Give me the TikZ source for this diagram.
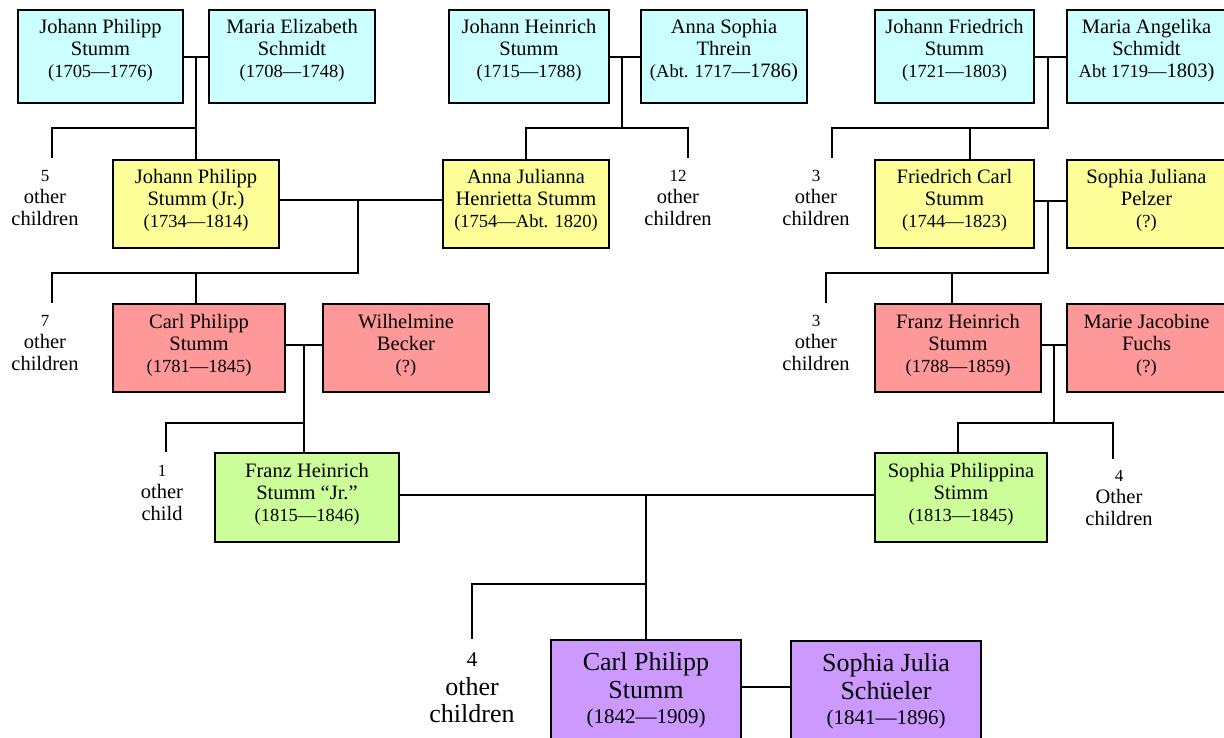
\documentclass[tikz,border=0pt]{standalone}
\usepackage{fontspec}
\setmainfont{Liberation Serif}
\usetikzlibrary{fit}
\definecolor{cyanbox}{HTML}{CCFFFF}
\definecolor{yelbox}{HTML}{FFFF99}
\definecolor{redbox}{HTML}{FF9999}
\definecolor{grnbox}{HTML}{CCFF99}
\definecolor{purbox}{HTML}{CC99FF}
\tikzset{
 pbox/.style={draw=black, line width=2.2pt, inner sep=0pt, outer sep=0pt, rectangle},
 conn/.style={draw=black, line width=2.2pt},
 nm/.style={anchor=base, inner sep=0pt, font=\fontsize{20.5}{22}\selectfont},
 dt/.style={anchor=base, inner sep=0pt, font=\fontsize{18.5}{20}\selectfont},
 bnm/.style={anchor=base, inner sep=0pt, font=\fontsize{26}{28}\selectfont},
 bdt/.style={anchor=base, inner sep=0pt, font=\fontsize{21}{23}\selectfont},
 num/.style={anchor=base, inner sep=0pt, font=\fontsize{17}{19}\selectfont},
 bnum/.style={anchor=base, inner sep=0pt, font=\fontsize{21}{23}\selectfont},
}
% name, x1, y1, x2, y2, fill, line1, line2, line3
\newcommand\personbox[9]{%
 \node[pbox, fill=#6, fit={(#2,#3) (#4,#5)}] (#1) {};
 \node[nm] (#1-a) at ([yshift=-24pt]#1.north) {#7};
 \node[nm] (#1-b) at ([yshift=-46pt]#1.north) {#8};
 \node[dt] (#1-c) at ([yshift=-68pt]#1.north) {#9};
}
% name, x, first baseline, number, word2, word3
\newcommand\otherkids[6]{%
 \node[num] (#1-a) at (#2,#3) {#4};
 \node[nm] (#1-b) at (#2,#3+22) {#5};
 \node[nm] (#1-c) at (#2,#3+44) {#6};
}
\begin{document}
\begin{tikzpicture}[x=1pt,y=-1pt]
\useasboundingbox (0,0) rectangle (1224,738);
\fill[white] (0,0) rectangle (1224,738);

% Row 1
\personbox{jps}{18}{10}{183}{103}{cyanbox}{Johann Philipp}{Stumm}{(1705—1776)}
\personbox{mes}{209}{10}{375}{103}{cyanbox}{Maria Elizabeth}{Schmidt}{(1708—1748)}
\personbox{jhs}{449}{10}{609}{103}{cyanbox}{Johann Heinrich}{Stumm}{(1715—1788)}
\personbox{ast}{641}{10}{807}{103}{cyanbox}{Anna Sophia}{Threin}{(Abt. 1717—{\fontsize{20.5}{22}\selectfont 1786)}}
\personbox{jfs}{875}{10}{1034}{103}{cyanbox}{Johann Friedrich}{Stumm}{(1721—1803)}
\personbox{mas}{1067}{10}{1226}{103}{cyanbox}{Maria Angelika}{Schmidt}{Abt 1719—{\fontsize{20.5}{22}\selectfont 1803)}}

% Row 2
\personbox{jpj}{113}{160}{279}{248}{yelbox}{Johann Philipp}{Stumm (Jr.)}{(1734—1814)}
\personbox{ajh}{443}{160}{609}{248}{yelbox}{Anna Julianna}{Henrietta Stumm}{(1754—Abt. 1820)}
\personbox{fcs}{875}{160}{1034}{248}{yelbox}{Friedrich Carl}{Stumm}{(1744—1823)}
\personbox{sjp}{1067}{160}{1226}{248}{yelbox}{Sophia Juliana}{Pelzer}{(?)}

% Row 3
\personbox{cps}{113}{304}{285}{392}{redbox}{Carl Philipp}{Stumm}{(1781—1845)}
\personbox{wb}{323}{304}{489}{392}{redbox}{Wilhelmine}{Becker}{(?)}
\personbox{fhs}{875}{304}{1041}{392}{redbox}{Franz Heinrich}{Stumm}{(1788—1859)}
\personbox{mjf}{1067}{304}{1226}{392}{redbox}{Marie Jacobine}{Fuchs}{(?)}

% Row 4
\personbox{fhj}{215}{453}{399}{542}{grnbox}{Franz Heinrich}{Stumm “Jr.”}{(1815—1846)}
\personbox{spp}{875}{453}{1047}{542}{grnbox}{Sophia Philippina}{Stimm}{(1813—1845)}

% Row 5
\node[pbox, fill=purbox, fit={(551,640) (741,742)}] (cp) {};
\node[bnm] (cp-a) at ([yshift=-30pt]cp.north) {Carl Philipp};
\node[bnm] (cp-b) at ([yshift=-58pt]cp.north) {Stumm};
\node[bdt] (cp-c) at ([yshift=-83pt]cp.north) {(1842—1909)};
\node[pbox, fill=purbox, fit={(791,641) (981,742)}] (sjs) {};
\node[bnm] (sjs-a) at ([yshift=-30pt]sjs.north) {Sophia Julia};
\node[bnm] (sjs-b) at ([yshift=-58pt]sjs.north) {Schüeler};
\node[bdt] (sjs-c) at ([yshift=-83pt]sjs.north) {(1841—1896)};

% Other children labels
\otherkids{ok1}{45}{182}{5}{other}{children}
\otherkids{ok2}{678}{182}{12}{other}{children}
\otherkids{ok3}{816}{182}{3}{other}{children}
\otherkids{ok4}{45}{326}{7}{other}{children}
\otherkids{ok5}{816}{326}{3}{other}{children}
\otherkids{ok6}{162}{476}{1}{other}{child}
\otherkids{ok7}{1119}{481}{4}{Other}{children}
\node[bnum] (ok8-a) at (472,666) {4};
\node[bnm] (ok8-b) at (472,695) {other};
\node[bnm] (ok8-c) at (472,722) {children};

% Family 1: jps + mes
\coordinate (j1) at (196,57);
\coordinate (b1) at (196,128);
\coordinate (o1) at (52,128);
\coordinate (o1e) at (52,158);
\draw[conn] (jps.east |- j1) -- (mes.west |- j1);
\draw[conn] (j1) -- (jpj.north);
\draw[conn] (b1) -- (o1) -- (o1e);

% Family 2: jhs + ast
\coordinate (j2) at (622,57);
\coordinate (b2) at (622,128);
\coordinate (c2) at (526,128);
\coordinate (o2) at (688,128);
\coordinate (o2e) at (688,158);
\draw[conn] (jhs.east |- j2) -- (ast.west |- j2);
\draw[conn] (j2) -- (b2);
\draw[conn] (ajh.north) -- (c2) -- (o2) -- (o2e);

% Family 3: jfs + mas
\coordinate (j3) at (1048,57);
\coordinate (b3) at (1048,128);
\coordinate (c3) at (970,128);
\coordinate (o3) at (832,128);
\coordinate (o3e) at (832,158);
\draw[conn] (jfs.east |- j3) -- (mas.west |- j3);
\draw[conn] (j3) -- (b3) -- (o3) -- (o3e);
\draw[conn] (c3) -- (c3 |- fcs.north);

% Family 4: jpj + ajh
\coordinate (j4) at (358,200);
\coordinate (b4) at (358,273);
\coordinate (c4) at (196,273);
\coordinate (o4) at (52,273);
\coordinate (o4e) at (52,303);
\draw[conn] (jpj.east |- j4) -- (ajh.west |- j4);
\draw[conn] (j4) -- (b4) -- (o4) -- (o4e);
\draw[conn] (c4) -- (c4 |- cps.north);

% Family 5: fcs + sjp
\coordinate (j5) at (1048,201);
\coordinate (b5) at (1048,273);
\coordinate (c5) at (952,273);
\coordinate (o5) at (826,273);
\coordinate (o5e) at (826,303);
\draw[conn] (fcs.east |- j5) -- (sjp.west |- j5);
\draw[conn] (j5) -- (b5) -- (o5) -- (o5e);
\draw[conn] (c5) -- (c5 |- fhs.north);

% Family 6: cps + wb
\coordinate (j6) at (304,345);
\coordinate (b6) at (304,423);
\coordinate (o6) at (166,423);
\coordinate (o6e) at (166,452);
\draw[conn] (cps.east |- j6) -- (wb.west |- j6);
\draw[conn] (j6) -- (j6 |- fhj.north);
\draw[conn] (b6) -- (o6) -- (o6e);

% Family 7: fhs + mjf
\coordinate (j7) at (1054,345);
\coordinate (b7) at (1054,423);
\coordinate (c7) at (958,423);
\coordinate (o7) at (1113,423);
\coordinate (o7e) at (1113,459);
\draw[conn] (fhs.east |- j7) -- (mjf.west |- j7);
\draw[conn] (j7) -- (b7);
\draw[conn] (c7 |- spp.north) -- (c7) -- (o7) -- (o7e);

% Family 8: fhj + spp
\coordinate (j8) at (646,495);
\coordinate (b8) at (646,584);
\coordinate (o8) at (472,584);
\coordinate (o8e) at (472,639);
\draw[conn] (fhj.east |- j8) -- (spp.west |- j8);
\draw[conn] (j8) -- (j8 |- cp.north);
\draw[conn] (b8) -- (o8) -- (o8e);

% Couple 9: cp + sjs
\coordinate (j9) at (766,687);
\draw[conn] (cp.east |- j9) -- (sjs.west |- j9);
\end{tikzpicture}
\end{document}
